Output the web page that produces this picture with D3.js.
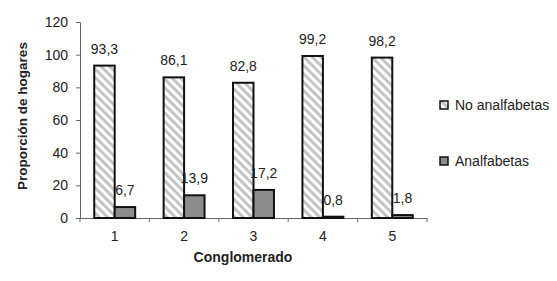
<!DOCTYPE html>
<html>
<head>
<meta charset="utf-8">
<script src="https://cdn.jsdelivr.net/npm/d3@7"></script>
<style>
  body { margin: 0; background: #fff; }
  text { font-family: Arial, "Liberation Sans", sans-serif; }
</style>
</head>
<body>
<div id="wrapper"></div>
<script>
// Data
const categories = ["1", "2", "3", "4", "5"];
const noAnalfabetas = [93.3, 86.1, 82.8, 99.2, 98.2];
const analfabetas = [6.7, 13.9, 17.2, 0.8, 1.8];
const seriesNames = ["No analfabetas", "Analfabetas"];
const yTicks = [0, 20, 40, 60, 80, 100, 120];

const fmt = v => String(v).replace(".", ",");

let dimension = {
    width: 557,
    height: 281,
    margin: { top: 22, right: 130, bottom: 63, left: 80 },
};
dimension.boundedWidth = dimension.width - dimension.margin.left - dimension.margin.right;
dimension.boundedHeight = dimension.height - dimension.margin.top - dimension.margin.bottom;

const wrapper = d3.select("#wrapper")
    .append("svg")
    .attr("width", dimension.width)
    .attr("height", dimension.height);

// hatch pattern for "No analfabetas"
const defs = wrapper.append("defs");
const pat = defs.append("pattern")
    .attr("id", "hatch")
    .attr("patternUnits", "userSpaceOnUse")
    .attr("width", 6)
    .attr("height", 6)
    .attr("patternTransform", "rotate(-45)");
pat.append("rect").attr("width", 6).attr("height", 6).attr("fill", "#ffffff");
pat.append("rect").attr("width", 3).attr("height", 6).attr("fill", "#c4c4c4");

const bounds = wrapper.append("g")
    .attr("transform", `translate(${dimension.margin.left},${dimension.margin.top})`);

const xScaler = d3.scaleBand()
    .domain(categories)
    .range([0, dimension.boundedWidth]);

const yScaler = d3.scaleLinear()
    .domain([0, 120])
    .range([dimension.boundedHeight, 0]);

const barW = xScaler.bandwidth() * 0.295;
const groupOffset = (xScaler.bandwidth() - 2 * barW) / 2;

// axes
const yAxis = bounds.append("g")
    .call(d3.axisLeft(yScaler).tickValues(yTicks).tickSize(4).tickPadding(8));
const xAxis = bounds.append("g")
    .attr("transform", `translate(0,${dimension.boundedHeight})`)
    .call(d3.axisBottom(xScaler).tickSize(0).tickPadding(13));

// category separator ticks
bounds.append("g")
    .selectAll("line")
    .data(d3.range(categories.length + 1))
    .join("line")
    .attr("x1", i => i * xScaler.step())
    .attr("x2", i => i * xScaler.step())
    .attr("y1", dimension.boundedHeight)
    .attr("y2", dimension.boundedHeight + 4)
    .attr("stroke", "#666");

[yAxis, xAxis].forEach(ax => {
    ax.selectAll(".domain").attr("stroke", "#666");
    ax.selectAll(".tick line").attr("stroke", "#666");
    ax.selectAll("text").attr("font-size", 14).attr("fill", "#222");
});

// bars
const series = [
    { values: noAnalfabetas, fill: "url(#hatch)" },
    { values: analfabetas, fill: "#8c8c8c" },
];
series.forEach((s, si) => {
    const g = bounds.append("g");
    g.selectAll("rect")
        .data(s.values)
        .join("rect")
        .attr("x", (d, i) => xScaler(categories[i]) + groupOffset + si * barW)
        .attr("y", d => yScaler(d))
        .attr("width", barW)
        .attr("height", d => dimension.boundedHeight - yScaler(d))
        .attr("fill", s.fill)
        .attr("stroke", "#111")
        .attr("stroke-width", 2);
    g.selectAll("text")
        .data(s.values)
        .join("text")
        .attr("x", (d, i) => xScaler(categories[i]) + groupOffset + si * barW + barW / 2)
        .attr("y", d => yScaler(d) - 12)
        .attr("text-anchor", "middle")
        .attr("font-size", 14)
        .attr("fill", "#222")
        .text(d => fmt(d));
});

// axis titles
wrapper.append("text")
    .attr("transform", `translate(27,116) rotate(-90)`)
    .attr("text-anchor", "middle")
    .attr("font-size", 13.5)
    .attr("font-weight", "bold")
    .attr("fill", "#222")
    .text("Proporción de hogares");

wrapper.append("text")
    .attr("x", 243)
    .attr("y", 262)
    .attr("text-anchor", "middle")
    .attr("font-size", 14)
    .attr("font-weight", "bold")
    .attr("fill", "#222")
    .text("Conglomerado");

// legend
const legend = wrapper.append("g").attr("transform", "translate(440,0)");
const legendItems = [
    { name: seriesNames[0], fill: "url(#hatch)", y: 105 },
    { name: seriesNames[1], fill: "#8c8c8c", y: 161 },
];
legendItems.forEach(it => {
    legend.append("rect")
        .attr("x", 0).attr("y", it.y - 4)
        .attr("width", 8).attr("height", 8)
        .attr("fill", it.fill)
        .attr("stroke", "#111")
        .attr("stroke-width", 1.5);
    legend.append("text")
        .attr("x", 15).attr("y", it.y + 5)
        .attr("font-size", 14)
        .attr("fill", "#222")
        .text(it.name);
});
</script>
</body>
</html>
